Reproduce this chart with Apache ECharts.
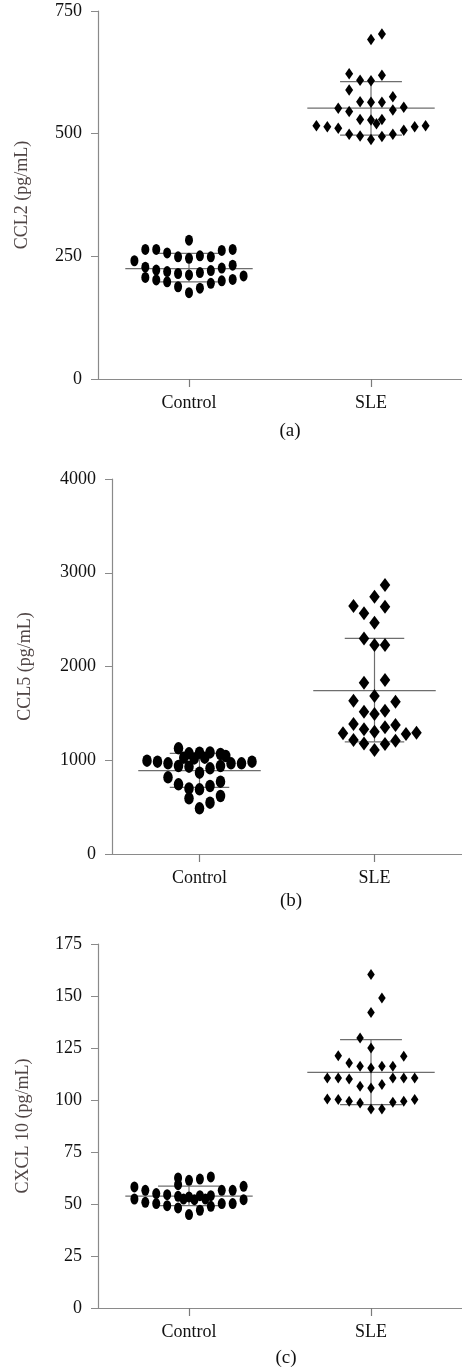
<!DOCTYPE html>
<html>
<head>
<meta charset="utf-8">
<title>CCL2 / CCL5 / CXCL10</title>
<script src="https://cdn.jsdelivr.net/npm/echarts@6/dist/echarts.min.js"></script>
<style>
  html, body { margin: 0; padding: 0; background: #fff; }
  #chart { width: 462px; height: 1368px; }
</style>
</head>
<body>
<div id="chart"></div>
<script>
// groups on the x axis
var groups = ['Control', 'SLE'];

// (a) CCL2 pg/mL; *Col = dot column in the swarm
var ccl2Control = [241, 264, 228, 207, 264, 222, 202, 257, 219, 198, 249, 215, 188, 283, 246, 212, 176,
  251, 217, 185, 249, 221, 195, 262, 226, 200, 264, 232, 203, 210];
var ccl2ControlCol = [-5, -4, -4, -4, -3, -3, -3, -2, -2, -2, -1, -1, -1, 0, 0, 0, 0,
  1, 1, 1, 2, 2, 2, 3, 3, 3, 4, 4, 4, 5];
var ccl2Sle = [692, 703, 622, 609, 608, 619, 589, 565, 564, 564, 575, 552, 545, 548, 554,
  529, 528, 529, 520, 516, 514, 511, 514, 516, 499, 495, 488, 494, 499, 507];
var ccl2SleCol = [0, 1, -2, -1, 0, 1, -2, -1, 0, 1, 2, -3, -2, 2, 3,
  -1, 0, 1, 0.5, -5, -4, -3, 4, 5, -2, -1, 0, 1, 2, 3];
var ccl2Mean = [225, 552];
var ccl2Upper = [256, 606];
var ccl2Lower = [198, 497];

// (b) CCL5 pg/mL
var ccl5Control = [996, 985, 967, 1127, 1074, 1081, 1084, 1067, 1028, 1020, 1028, 1045, 939, 932, 914,
  939, 967, 967, 985, 868, 818, 743, 700, 690, 725, 772, 594, 548, 619, 487];
var ccl5ControlCol = [-5, -4, -3, -2, -1, 0, 1, 2, -1.5, -0.5, 0.5, 2.5, -2, -1, 1,
  2, 3, 4, 5, 0, -3, -2, -1, 0, 1, 2, -1, 1, 2, 0];
var ccl5Sle = [2869, 2745, 2645, 2638, 2567, 2468, 2300, 2229, 2229, 1828, 1856, 1685, 1636, 1625, 1518,
  1493, 1529, 1387, 1330, 1305, 1351, 1376, 1287, 1280, 1294, 1216, 1180, 1109, 1173, 1209];
var ccl5SleCol = [1, 0, -2, 1, -1, 0, -1, 0, 1, -1, 1, 0, -2, 2, -1,
  0, 1, -2, -1, 0, 1, 2, -3, 3, 4, -2, -1, 0, 1, 2];
var ccl5Mean = [889, 1742];
var ccl5Upper = [1074, 2300];
var ccl5Lower = [711, 1195];

// (c) CXCL10 pg/mL
var cxcl10Control = [58.2, 52.4, 56.6, 50.8, 55.0, 50.2, 54.5, 49.2, 62.5, 59.3, 53.7, 48.1, 61.4, 44.9, 62.0,
  47.0, 63.0, 48.9, 56.6, 50.2, 56.6, 50.2, 58.5, 52.1, 52.4, 53.4, 52.1, 54.0, 52.4, 54.0];
var cxcl10ControlCol = [-5, -5, -4, -4, -3, -3, -2, -2, -1, -1, -1, -1, 0, 0, 1,
  1, 2, 2, 3, 3, 4, 4, 5, 5, -0.5, 0, 0.5, 1, 1.5, 2];
var cxcl10Sle = [160.3, 149.0, 142.1, 129.8, 125.0, 121.3, 121.0, 117.8, 116.2, 115.4, 116.2, 116.2, 110.6, 110.6, 110.1,
  110.6, 110.6, 110.6, 106.6, 105.8, 107.4, 100.5, 100.2, 99.4, 98.6, 98.9, 99.4, 100.2, 95.7, 95.7];
var cxcl10SleCol = [0, 1, 0, -1, 0, -3, 3, -2, -1, 0, 1, 2, -4, -3, -2,
  2, 3, 4, -1, 0, 1, -4, -3, -2, -1, 2, 3, 4, 0, 1];
var cxcl10Mean = [53.8, 113.3];
var cxcl10Upper = [58.6, 129.0];
var cxcl10Lower = [49.2, 97.8];

var yTicks = [
  { max: 750, interval: 250 },
  { max: 4000, interval: 1000 },
  { max: 175, interval: 25 }
];
var yNames = ['CCL2 (pg/mL)', 'CCL5 (pg/mL)', 'CXCL 10 (pg/mL)'];
var captions = ['(a)', '(b)', '(c)'];

var FONT = '"Liberation Serif", "Times New Roman", serif';
var COL_STEP = 0.06;   // width of one swarm column, in group units

var panels = [
  { ctl: ccl2Control, ctlCol: ccl2ControlCol, sle: ccl2Sle, sleCol: ccl2SleCol,
    mean: ccl2Mean, up: ccl2Upper, lo: ccl2Lower,
    grid: { left: 98, top: 11, width: 368, height: 368 }, gap: 67, dot: [8, 11], dia: [8, 11.5],
    cap: { x: 285, y: 417 } },
  { ctl: ccl5Control, ctlCol: ccl5ControlCol, sle: ccl5Sle, sleCol: ccl5SleCol,
    mean: ccl5Mean, up: ccl5Upper, lo: ccl5Lower,
    grid: { left: 112, top: 479, width: 354, height: 375 }, gap: 78, dot: [9.5, 12.5], dia: [10.5, 14],
    cap: { x: 286, y: 887 } },
  { ctl: cxcl10Control, ctlCol: cxcl10ControlCol, sle: cxcl10Sle, sleCol: cxcl10SleCol,
    mean: cxcl10Mean, up: cxcl10Upper, lo: cxcl10Lower,
    grid: { left: 98, top: 944, width: 370, height: 364 }, gap: 66, dot: [8, 11], dia: [7.5, 11],
    cap: { x: 281, y: 1344 } }
];

function swarm(values, cols, center) {
  return values.map(function (v, i) { return [center + cols[i] * COL_STEP, v]; });
}

function meanSd(params, api) {
  var c = api.value(0), m = api.value(1), hi = api.value(2), lo = api.value(3);
  var seg = function (x1, y1, x2, y2) {
    var a = api.coord([x1, y1]), b = api.coord([x2, y2]);
    return {
      type: 'line',
      shape: { x1: a[0], y1: a[1], x2: b[0], y2: b[1] },
      style: { stroke: '#6e6e6e', lineWidth: 1.2 }
    };
  };
  return {
    type: 'group',
    children: [
      seg(c - 0.35, m, c + 0.35, m),
      seg(c - 0.17, hi, c + 0.17, hi),
      seg(c - 0.17, lo, c + 0.17, lo),
      seg(c, hi, c, lo)
    ]
  };
}

var option = {
  backgroundColor: '#fff',
  animation: false,
  textStyle: { fontFamily: FONT },
  title: [],
  grid: [],
  xAxis: [],
  yAxis: [],
  series: []
};

panels.forEach(function (p, i) {
  option.grid.push(p.grid);
  option.title.push({
    text: captions[i], left: p.cap.x, top: p.cap.y, textAlign: 'center',
    textStyle: { fontFamily: FONT, fontSize: 19, fontWeight: 'normal', color: '#111' }
  });
  // visible category axis
  option.xAxis.push({
    type: 'category', gridIndex: i, data: groups,
    axisLine: { onZero: false, lineStyle: { color: '#8a8a8a', width: 1.2 } },
    axisTick: { show: true, alignWithLabel: true, length: 8, lineStyle: { color: '#7a7a7a', width: 1.2 } },
    axisLabel: { color: '#111', fontSize: 18, fontFamily: FONT, margin: 15 }
  });
  // hidden value axis the dots sit on (group centres at 0 and 1)
  option.xAxis.push({
    type: 'value', gridIndex: i, min: -0.5, max: 1.5, show: false
  });
  option.yAxis.push({
    type: 'value', gridIndex: i, min: 0, max: yTicks[i].max, interval: yTicks[i].interval,
    name: yNames[i], nameLocation: 'middle', nameGap: p.gap,
    nameTextStyle: { color: '#4f4545', fontSize: 18, fontFamily: FONT },
    splitLine: { show: false },
    axisLine: { show: true, onZero: false, lineStyle: { color: '#8a8a8a', width: 1.2 } },
    axisTick: { show: true, length: 7, lineStyle: { color: '#8a8a8a' } },
    axisLabel: {
      color: '#111', fontSize: 18, fontFamily: FONT, margin: 16,
      formatter: function (v) { return String(v); }
    }
  });

  var xi = i * 2 + 1;
  option.series.push({
    type: 'custom', xAxisIndex: xi, yAxisIndex: i, z: 1,
    renderItem: meanSd,
    data: [0, 1].map(function (g) { return [g, p.mean[g], p.up[g], p.lo[g]]; })
  });
  option.series.push({
    type: 'scatter', xAxisIndex: xi, yAxisIndex: i, z: 2,
    symbol: 'circle', symbolSize: p.dot,
    itemStyle: { color: '#000', opacity: 1 },
    data: swarm(p.ctl, p.ctlCol, 0)
  });
  option.series.push({
    type: 'scatter', xAxisIndex: xi, yAxisIndex: i, z: 2,
    symbol: 'diamond', symbolSize: p.dia,
    itemStyle: { color: '#000', opacity: 1 },
    data: swarm(p.sle, p.sleCol, 1)
  });
});

var chart = echarts.init(document.getElementById('chart'));
chart.setOption(option);
</script>
</body>
</html>
